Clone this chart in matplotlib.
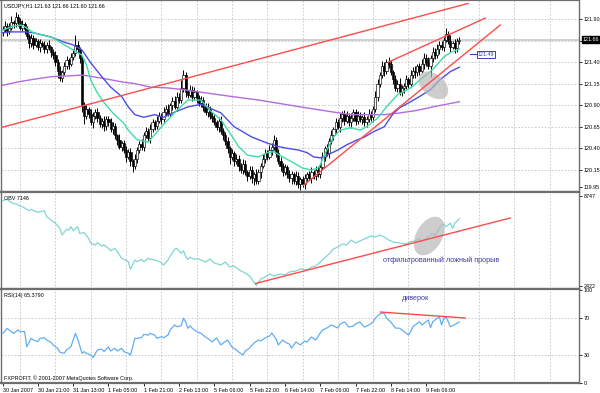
import matplotlib
matplotlib.use("Agg")
import matplotlib.pyplot as plt
from matplotlib.patches import Ellipse
from matplotlib.transforms import Affine2D, ScaledTranslation, blended_transform_factory

# ---------------- DATA ----------------
first_open = 121.75
close = [
    121.78, 121.82, 121.76, 121.80, 121.86,
    121.85, 121.92, 121.88, 121.80, 121.84,
    121.78, 121.70, 121.62, 121.68, 121.60,
    121.64, 121.58, 121.62, 121.60, 121.55, 121.60, 121.57, 121.52,
    121.48, 121.40, 121.30, 121.22,
    121.28, 121.36, 121.42, 121.38, 121.46,
    121.50, 121.60, 121.55, 121.45,
    120.90, 120.78,
    120.85, 120.80, 120.70, 120.78, 120.82, 120.75, 120.68, 120.72, 120.66, 120.74, 120.70, 120.62, 120.66,
    120.55, 120.50, 120.42, 120.46, 120.38, 120.30, 120.36, 120.25, 120.20, 120.28,
    120.38, 120.45, 120.42, 120.55, 120.60, 120.52, 120.62, 120.70, 120.66, 120.72,
    120.78, 120.74, 120.82, 120.86, 120.80, 120.90, 120.95, 120.88, 121.00, 120.96,
    121.10, 121.25, 121.05,
    121.02, 121.08, 121.00, 121.05, 120.98, 120.92, 120.96,
    120.88, 120.82, 120.86, 120.78, 120.75,
    120.70, 120.65, 120.72, 120.60, 120.55,
    120.48, 120.40, 120.30, 120.35, 120.25,
    120.28, 120.20, 120.15, 120.22, 120.12, 120.08, 120.15, 120.05, 120.10, 120.02,
    120.12, 120.20, 120.28, 120.35, 120.30, 120.38, 120.42, 120.50,
    120.35, 120.25, 120.20, 120.12, 120.18, 120.10,
    120.05, 120.10, 120.02, 120.08, 119.98, 120.04, 119.98, 120.05,
    120.10, 120.06, 120.12, 120.08, 120.15, 120.10, 120.18,
    120.30, 120.40, 120.35, 120.48, 120.55,
    120.62, 120.70, 120.65, 120.75, 120.80, 120.72,
    120.78, 120.70, 120.75, 120.82, 120.72, 120.78, 120.74,
    120.76, 120.70, 120.74, 120.80, 120.76, 120.85,
    121.00, 121.15, 121.25, 121.35, 121.30, 121.40, 121.38,
    121.28, 121.20, 121.10, 121.15, 121.05, 121.10,
    121.12, 121.20, 121.15, 121.25, 121.30, 121.28, 121.35,
    121.30, 121.38, 121.45, 121.40, 121.35, 121.45, 121.52, 121.48,
    121.55, 121.60, 121.58, 121.66, 121.72,
    121.65, 121.58, 121.62, 121.56, 121.64, 121.66,
]
# wick lengths in pips above / below the candle body
wick_hi = [
    4, 6, 3, 5, 8, 3, 6, 4, 3, 5, 2, 4, 3, 5, 3, 4,
    3, 5, 2, 4, 3, 6, 2, 3, 5, 4, 6, 3, 4, 5, 3, 4,
    5, 11, 4, 3, 2, 4, 5, 3, 6, 4, 3, 5, 4, 3, 6, 4,
    3, 5, 4, 3, 2, 6, 3, 4, 5, 3, 4, 2, 5, 4, 3, 6,
    4, 5, 3, 6, 4, 3, 5, 4, 3, 6, 4, 5, 3, 4, 6, 5,
    4, 9, 6, 4, 3, 5, 4, 6, 3, 4, 5, 3, 4, 6, 3, 4,
    5, 3, 4, 6, 3, 4, 5, 3, 4, 2, 5, 4, 3, 6, 4, 3,
    4, 5, 3, 6, 4, 3, 5, 4, 3, 6, 4, 5, 3, 4, 5, 3,
    4, 3, 5, 4, 3, 6, 4, 3, 4, 5, 3, 4, 6, 3, 4, 5,
    4, 6, 3, 5, 4, 6, 3, 5, 4, 6, 3, 4, 5, 3, 6, 4,
    3, 5, 4, 3, 6, 4, 5, 3, 4, 6, 5, 4, 6, 5, 4, 6,
    4, 3, 5, 4, 6, 3, 4, 5, 3, 6, 4, 5, 3, 4, 6, 5,
    4, 6, 3, 5, 4, 6, 5, 4, 3, 7, 4, 6, 3, 5, 4, 3,
]
wick_lo = [
    5, 3, 6, 4, 3, 5, 4, 6, 3, 4, 5, 3, 6, 4, 5, 3,
    4, 6, 3, 5, 4, 3, 6, 4, 5, 8, 4, 5, 3, 4, 6, 3,
    4, 3, 5, 6, 8, 10, 4, 5, 3, 6, 4, 5, 3, 4, 6, 5,
    4, 3, 5, 4, 6, 3, 5, 4, 6, 3, 5, 8, 4, 5, 3, 4,
    5, 3, 4, 6, 3, 5, 4, 3, 6, 4, 5, 3, 4, 6, 3, 5,
    4, 3, 5, 6, 4, 3, 5, 4, 6, 3, 4, 5, 3, 6, 4, 5,
    3, 4, 6, 3, 5, 4, 6, 8, 4, 5, 3, 6, 4, 5, 3, 6,
    4, 5, 8, 3, 4, 6, 3, 5, 4, 3, 6, 4, 5, 3, 6, 4,
    3, 5, 4, 6, 3, 5, 4, 6, 3, 5, 4, 3, 6, 4, 5, 3,
    4, 3, 5, 4, 6, 3, 5, 4, 3, 6, 4, 5, 3, 4, 6, 3,
    5, 4, 3, 6, 4, 5, 3, 4, 6, 3, 5, 4, 3, 6, 4, 5,
    3, 6, 4, 5, 3, 4, 6, 3, 5, 4, 3, 6, 4, 5, 3, 6,
    4, 3, 12, 5, 4, 3, 6, 4, 5, 3, 4, 6, 3, 5, 4, 3,
]

fast_x = [0, 4, 8, 10, 14, 19, 23, 28, 32, 36, 38, 40, 43, 46, 50, 55, 57, 61, 66, 72,
          79, 84, 90, 94, 99, 103, 107, 111, 116, 120, 123, 127, 132, 136, 140, 143, 144,
          147, 150, 153, 158, 162, 165, 170, 174, 179, 185, 189, 194, 197, 200, 203, 207]
fast_v = [121.77, 121.81, 121.83, 121.81, 121.74, 121.71, 121.68, 121.60, 121.54, 121.48,
          121.37, 121.19, 121.04, 120.93, 120.81, 120.69, 120.61, 120.50, 120.47, 120.65,
          120.84, 120.96, 120.96, 120.84, 120.73, 120.58, 120.42, 120.32, 120.30, 120.35,
          120.36, 120.30, 120.23, 120.17, 120.15, 120.17, 120.21, 120.38, 120.53, 120.61,
          120.64, 120.61, 120.65, 120.75, 120.88, 121.02, 121.10, 121.19, 121.29, 121.37,
          121.46, 121.51, 121.55]
mid_x = [0, 4, 10, 14, 22, 28, 32, 36, 40, 45, 49, 54, 57, 60, 64, 69, 73, 78, 84, 90,
         99, 105, 113, 120, 125, 129, 134, 138, 141, 144, 147, 152, 156, 161, 164, 168,
         173, 177, 180, 185, 189, 194, 198, 203, 207]
mid_v = [121.74, 121.75, 121.75, 121.74, 121.69, 121.63, 121.60, 121.54, 121.39, 121.23,
         121.11, 121.00, 120.88, 120.79, 120.76, 120.79, 120.76, 120.82, 120.88, 120.91,
         120.81, 120.65, 120.53, 120.46, 120.42, 120.40, 120.38, 120.35, 120.30, 120.29,
         120.32, 120.38, 120.44, 120.50, 120.53, 120.59, 120.65, 120.80, 120.87, 120.94,
         121.00, 121.08, 121.19, 121.29, 121.34]
slow_x = [0, 7, 14, 22, 30, 36, 41, 48, 54, 60, 67, 75, 82, 90, 104, 116, 135, 150, 158,
          165, 173, 180, 188, 195, 207]
slow_v = [121.13, 121.17, 121.20, 121.23, 121.24, 121.25, 121.23, 121.20, 121.17, 121.15,
          121.11, 121.10, 121.08, 121.05, 121.00, 120.96, 120.88, 120.82, 120.79, 120.79,
          120.79, 120.81, 120.84, 120.88, 120.94]

obv_x = [0, 2, 4, 6, 8, 9, 11, 12, 13, 14, 16, 17, 19, 20, 23, 24, 26, 27, 29, 30, 31, 32,
         34, 35, 37, 39, 40, 42, 43, 45, 46, 48, 49, 51, 52, 54, 55, 57, 58, 60, 61, 63, 64,
         66, 67, 69, 70, 72, 73, 75, 76, 78, 79, 81, 82, 83, 84, 85, 87, 88,
         90, 92, 94, 96, 99, 101, 103, 105, 108, 110, 112, 115, 117, 119, 121, 123, 126,
         128, 130, 133, 135, 138, 140, 142, 144, 146, 148, 150, 152, 154, 156, 158, 160,
         162, 165, 167, 169, 171, 173, 175, 177,
         180, 183, 185, 187, 189, 190, 192, 195, 196, 198, 199, 200, 201, 203, 204,
         205, 207]
obv_v = [8417, 8515, 8276, 8185, 8044, 7995, 7812, 7714, 7812, 7714, 7601, 7643, 7714, 7292,
         6940, 6828, 6476, 6005, 6406, 6357, 6589, 6308, 6589, 6125, 6167, 5773, 5422, 5302,
         5464, 5232, 5302, 5070, 4901, 5070, 4831, 4367, 4297, 4128, 3594, 4248, 4128, 4297,
         4128, 4367, 4297, 4248, 4198, 4058, 3896, 4248, 4529, 5000, 5070, 4719, 4901, 4480,
         4297, 4438, 4297, 4339,
         4248, 4107, 4318, 4037, 3896, 4107, 3756, 3826, 3475, 3334, 3123, 2450, 2912, 3053,
         3264, 3123, 3264, 3194, 3404, 3475, 3615, 3545, 3756, 3826, 4107, 4389, 4670, 5021,
         5162, 5373, 5302, 5654, 5443, 5584, 5794, 5935, 5864, 6005, 5864, 5654, 5513,
         5443, 5373, 5534, 5584, 5773, 5534, 5773, 6125, 5935, 6476, 6708, 6778, 6589, 6828,
         6476, 6828, 7146]

rsi_x = [0, 1, 2, 4, 5, 7, 8, 10, 11, 13, 14, 16, 17, 19, 20, 22, 23, 25, 26, 28, 29, 31,
         32, 33, 34, 36, 37, 38, 40, 41, 43, 45, 46, 48, 49, 51, 52, 54, 55, 57, 58, 60, 61,
         63, 64, 66, 67, 69, 70, 72, 73, 75, 76, 78, 79, 81, 82, 83, 84, 85, 86, 87, 88, 90,
         92, 94, 95, 97, 99, 100, 102, 104, 106, 107, 109, 110, 112, 114, 116, 117, 119, 121,
         122, 124, 125, 127, 128, 130, 131, 133, 135, 137, 138, 140, 142, 144, 145, 147, 149,
         150, 152, 153, 155, 157, 159, 160, 162, 164, 166, 168, 169, 171, 173, 174, 176, 178,
         180, 182, 183, 184, 185, 186, 188,
         189, 190, 192, 193, 194, 195, 197, 198, 199, 200, 201, 202, 203, 204, 207]
rsi_v = [53.2, 55.1, 58.6, 55.1, 53.2, 56.9, 55.1, 55.1, 38.9, 47.9, 46.1, 44.3, 47.9, 48.6,
         46.1, 43.6, 40.7, 37.2, 32.9, 31.9, 35.4, 38.9, 46.1, 53.2, 47.9, 31.9, 33.6, 31.9,
         30.0, 27.2, 35.4, 36.4, 33.6, 38.9, 34.3, 37.2, 34.3, 37.2, 33.6, 31.9, 30.0, 47.9,
         47.9, 48.6, 52.2, 51.4, 53.2, 51.4, 47.9, 49.7, 48.6, 51.4, 56.9, 62.2, 60.4, 61.4,
         69.4, 65.7, 58.6, 61.4, 58.6, 56.9, 55.1, 53.2,
         49.3, 46.1, 44.0, 48.3, 40.8, 42.9, 46.1, 38.6, 35.4, 33.2, 30.0, 34.3, 37.5, 42.9,
         46.1, 45.0, 48.3, 50.4, 53.6, 47.2, 40.8, 46.1, 44.0, 41.8, 37.5, 44.0, 40.8, 45.0,
         44.0, 49.3, 46.1, 53.6, 56.8, 59.0, 62.2, 61.1, 59.0, 63.3, 65.4, 60.0, 61.1, 63.3,
         65.4, 60.0, 62.2, 65.4, 69.7, 74.0, 75.1, 69.7, 65.4, 59.0,
         58.7, 55.0, 53.3, 51.5, 55.0, 60.4, 64.0,
         65.7, 62.2, 65.7, 67.6, 59.3, 65.7, 69.4, 71.1, 62.2, 69.4, 71.1, 65.7, 60.4, 61.4, 65.4]

time_labels = ["30 Jan 2007", "30 Jan 21:00", "31 Jan 13:00", "1 Feb 05:00", "1 Feb 21:00",
               "2 Feb 13:00", "5 Feb 06:00", "5 Feb 22:00", "6 Feb 14:00", "7 Feb 06:00",
               "7 Feb 22:00", "8 Feb 14:00", "9 Feb 06:00"]
price_ticks = [119.95, 120.15, 120.40, 120.65, 120.90, 121.15, 121.40, 121.65, 121.90]

# hand-drawn objects (bar, value)
price_lines = [((-0.7, 120.64), (211.0, 122.08)),
               ((174.9, 121.40), (218.8, 121.91)),
               ((136.4, 119.97), (225.6, 121.83))]
obv_line = ((114.7, 2600), (230.1, 7200))
rsi_line = ((171.3, 76.1), (209.7, 69.7))

# ---------------- STYLE ----------------
plt.rcParams['font.family'] = ['Liberation Sans', 'DejaVu Sans']
FS = 3.9
GRID = dict(color='#c4c4c4', lw=0.6, ls=(0, (2, 2)), zorder=0)
SPINE = '#6e6e6e'
W, H = 600, 393

fig = plt.figure(figsize=(W / 100, H / 100), dpi=100)
fig.patch.set_facecolor('white')
grid_bars = [8 + 16 * k for k in range(16)]


def panel(top, bottom):
    a = fig.add_axes([1 / W, 1 - bottom / H, 578 / W, (bottom - top) / H])
    a.set_xlim(-0.7, 261.3)
    for s in a.spines.values():
        s.set_color(SPINE)
        s.set_linewidth(1)
    a.spines['top'].set_linewidth(1.6)
    a.spines['bottom'].set_linewidth(1.6)
    a.yaxis.tick_right()
    a.tick_params(axis='y', labelsize=FS, length=2, pad=1.5, width=0.6, colors='black')
    a.tick_params(axis='x', bottom=False, labelbottom=False)
    for b in grid_bars:
        a.axvline(b, **GRID)
    return a


ax_p = panel(0, 192)
ax_o = panel(192, 289)
ax_r = panel(289, 383)

# ---------------- PRICE ----------------
ax_p.set_ylim(119.893, 122.12)
for lv in price_ticks[1:]:
    ax_p.axhline(lv, **GRID)
ax_p.axhline(121.66, color='#c8c8c8', lw=1.2, zorder=1)
ax_p.set_yticks(price_ticks, [f"{t:.2f}" if t != 121.65 else "" for t in price_ticks])

opens = [first_open] + close[:-1]
bars = list(range(len(close)))
highs = [max(o, c) + h / 100 for o, c, h in zip(opens, close, wick_hi)]
lows = [min(o, c) - l / 100 for o, c, l in zip(opens, close, wick_lo)]
ax_p.vlines(bars, lows, highs, color='black', lw=0.7, zorder=2)
bodies = [max(abs(c - o), 0.008) for o, c in zip(opens, close)]
bottoms = [min(o, c) for o, c in zip(opens, close)]
faces = ['white' if c >= o else 'black' for o, c in zip(opens, close)]
ax_p.bar(bars, bodies, bottom=bottoms, width=1.0, color=faces, edgecolor='black',
         linewidth=0.45, zorder=2)

ax_p.plot(slow_x, slow_v, color='#b46ae0', lw=1, zorder=3)
ax_p.plot(mid_x, mid_v, color='#4d4de8', lw=1, zorder=3)
ax_p.plot(fast_x, fast_v, color='#3fdca6', lw=1, zorder=3)

for (x0, y0), (x1, y1) in price_lines:
    ax_p.plot([x0, x1], [y0, y1], color='#ff4b4b', lw=1, zorder=5)


def blob(ax, x, y, w, h, ang):
    tr = Affine2D() + ScaledTranslation(x, y, ax.transData)
    ax.add_patch(Ellipse((0, 0), w, h, angle=ang, transform=tr, facecolor='#b8b8b8',
                         edgecolor='none', alpha=0.7, zorder=4))


blob(ax_p, 195.3, 121.13, 34, 22, -40)

trp = blended_transform_factory(ax_p.transAxes, ax_p.transData)
ax_p.text(1.006, 121.66, "121.66", transform=trp, fontsize=FS, color='white', va='center',
          ha='left', bbox=dict(facecolor='black', edgecolor='black', pad=0.6), clip_on=False)
ax_p.plot([212.0, 215.3], [121.49, 121.49], color='#3c3cc8', lw=0.8, zorder=5)
ax_p.text(215.5, 121.49, "121.49", fontsize=FS, color='#3c3cc8', va='center', ha='left',
          bbox=dict(facecolor='white', edgecolor='#3c3cc8', pad=0.6, lw=0.7), zorder=6)
ax_p.text(0.005, 0.968, "USDJPY,H1 121.63 121.66 121.60 121.66", transform=ax_p.transAxes,
          fontsize=FS, va='center', ha='left')

# ---------------- OBV ----------------
ax_o.set_ylim(2209, 9028)
ax_o.set_yticks([8747, 2422], ["8747", "2422"])
ax_o.plot(obv_x, obv_v, color='#7fd6d2', lw=0.9, zorder=3)
ax_o.plot([obv_line[0][0], obv_line[1][0]], [obv_line[0][1], obv_line[1][1]],
          color='#ff4b4b', lw=1, zorder=5)
blob(ax_o, 193.4, 5935, 42, 26, 60)
ax_o.text(0.005, 0.935, "OBV 7146", transform=ax_o.transAxes, fontsize=FS, va='center')
ax_o.text(172.6, 4248, "отфильтрованный ложный прорыв", fontsize=5.2, color='#3c3ca0',
          va='center', ha='left')

# ---------------- RSI ----------------
ax_r.set_ylim(0, 100.8)
for lv in [70, 30]:
    ax_r.axhline(lv, **GRID)
ax_r.set_yticks([100, 70, 30, 0], ["100", "70", "30", "0"])
ax_r.plot(rsi_x, rsi_v, color='#62aef2', lw=0.9, zorder=3)
ax_r.plot([rsi_line[0][0], rsi_line[1][0]], [rsi_line[0][1], rsi_line[1][1]],
          color='#ff4b4b', lw=1, zorder=5)
ax_r.text(180.8, 90.1, "диверок", fontsize=5.2, color='#3c3ca0', va='center', ha='left')
ax_r.text(0.005, 0.935, "RSI(14) 65.3790", transform=ax_r.transAxes, fontsize=FS, va='center')
ax_r.text(0.005, 0.055, "FXPROFIT, © 2001-2007 MetaQuotes Software Corp.",
          transform=ax_r.transAxes, fontsize=FS, va='center')

ax_r.tick_params(axis='x', bottom=True, labelbottom=True, length=2.5, width=0.6,
                 labelsize=FS, pad=1, direction='out')
ax_r.set_xticks([16 * k for k in range(len(time_labels))], time_labels)
for lab in ax_r.get_xticklabels():
    lab.set_horizontalalignment('left')

fig.savefig("out.png", dpi=100, facecolor='white')
